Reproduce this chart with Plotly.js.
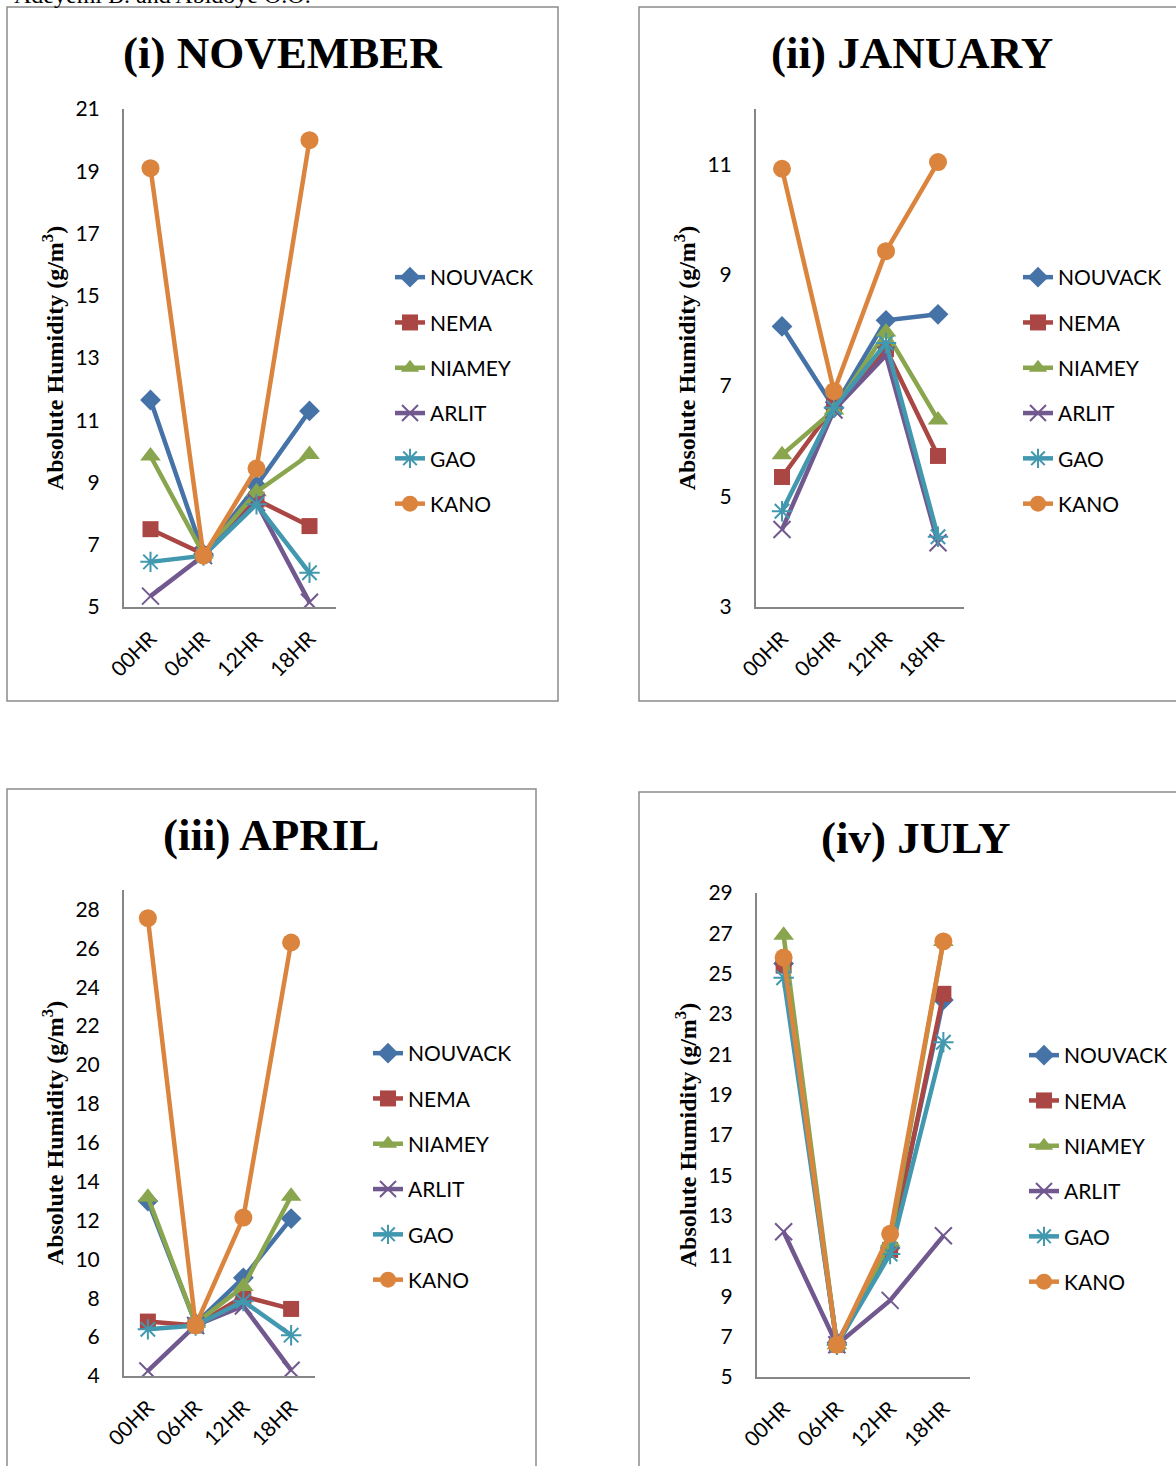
<!DOCTYPE html>
<html>
<head>
<meta charset="utf-8">
<script src="https://cdn.plot.ly/plotly-3.0.1.min.js"></script>
<style>
html,body{margin:0;padding:0;background:#ffffff;}
#chart{width:1176px;height:1466px;}
</style>
</head>
<body>
<div id="chart"></div>
<script>
// ---------- DATA ----------
const hours = ['00HR', '06HR', '12HR', '18HR'];
const stations = ['NOUVACK', 'NEMA', 'NIAMEY', 'ARLIT', 'GAO', 'KANO'];
const panelTitles = ['(i) NOVEMBER', '(ii) JANUARY', '(iii) APRIL', '(iv) JULY'];
const yTitle = 'Absolute Humidity (g/m<sup>3</sup>)';

// November
const novNOUVACK = [11.65, 6.7, 8.9, 11.3];
const novNEMA    = [7.5, 6.7, 8.45, 7.6];
const novNIAMEY  = [9.85, 6.7, 8.7, 9.9];
const novARLIT   = [5.35, 6.65, 8.35, 5.15];
const novGAO     = [6.45, 6.65, 8.3, 6.1];
const novKANO    = [19.1, 6.65, 9.45, 20.0];

// January
const janNOUVACK = [8.07, 6.6, 8.18, 8.29];
const janNEMA    = [5.35, 6.63, 7.66, 5.73];
const janNIAMEY  = [5.75, 6.56, 7.97, 6.38];
const janARLIT   = [4.4, 6.56, 7.55, 4.16];
const janGAO     = [4.73, 6.6, 7.77, 4.27];
const janKANO    = [10.92, 6.9, 9.43, 11.04];

// April
const aprNOUVACK = [13.0, 6.7, 9.05, 12.1];
const aprNEMA    = [6.8, 6.6, 8.1, 7.45];
const aprNIAMEY  = [13.2, 6.7, 8.6, 13.25];
const aprARLIT   = [4.26, 6.6, 7.6, 4.3];
const aprGAO     = [6.4, 6.6, 7.85, 6.1];
const aprKANO    = [27.55, 6.6, 12.15, 26.3];

// July
const julNOUVACK = [25.5, 6.7, 11.4, 23.7];
const julNEMA    = [25.4, 6.6, 11.3, 24.0];
const julNIAMEY  = [26.9, 6.6, 11.7, 26.6];
const julARLIT   = [12.2, 6.6, 8.8, 12.0];
const julGAO     = [24.8, 6.6, 11.1, 21.6];
const julKANO    = [25.8, 6.6, 12.1, 26.6];

// y-axis ranges and ticks
const yRanges = [[5, 21], [3, 12], [4, 29], [5, 29]];
const yTick0  = [5, 3, 4, 5];
const yDtick  = [2, 2, 2, 2];

// ---------- STYLE ----------
const colors  = ['#4572A7', '#AA4643', '#89A54E', '#71588F', '#4198AF', '#DB843D'];
const symbols = ['diamond', 'square', 'triangle-up', 'x-thin-open', 'asterisk-open', 'circle'];
const msizes  = [16, 16, 18, 17, 17, 18];

const months = [
  [novNOUVACK, novNEMA, novNIAMEY, novARLIT, novGAO, novKANO],
  [janNOUVACK, janNEMA, janNIAMEY, janARLIT, janGAO, janKANO],
  [aprNOUVACK, aprNEMA, aprNIAMEY, aprARLIT, aprGAO, aprKANO],
  [julNOUVACK, julNEMA, julNIAMEY, julARLIT, julGAO, julKANO]
];

const W = 1176, H = 1466;
const px = v => v / W;
const py = v => 1 - v / H;

// plot-area boxes in pixels [left, right, top, bottom]
const boxes = [
  [124, 336, 109, 607],
  [756, 964, 109, 607],
  [124, 315, 890, 1376],
  [757, 970, 893, 1377]
];
// legend anchor (left, top) in pixels
const legendPos = [[390, 257], [1018, 257], [368, 1033], [1024, 1035]];
// panel frames [x0, y0, x1, y1]
const frames = [
  [7, 7, 558, 701],
  [639, 7, 1185, 701],
  [7, 789, 536, 1480],
  [639, 792, 1185, 1480]
];
// title centres
const titlePos = [[282, 53], [912, 53], [271, 835], [916, 838]];

const tickFont = {family: 'Lato, "Open Sans", sans-serif', size: 21, color: '#000000'};
const traces = [];
const layout = {
  width: W, height: H,
  margin: {l: 0, r: 0, t: 0, b: 0},
  paper_bgcolor: '#ffffff',
  plot_bgcolor: 'rgba(0,0,0,0)',
  showlegend: true,
  shapes: [],
  annotations: [],
  font: tickFont
};

months.forEach((series, p) => {
  const sfx = p === 0 ? '' : String(p + 1);
  const legName = 'legend' + sfx;
  series.forEach((vals, s) => {
    const open = symbols[s].indexOf('open') >= 0;
    traces.push({
      type: 'scatter',
      mode: 'lines+markers',
      x: hours,
      y: vals,
      name: stations[s],
      xaxis: 'x' + sfx,
      yaxis: 'y' + sfx,
      legend: legName,
      legendgroup: 'p' + p + '_' + stations[s],
      line: {color: colors[s], width: 4.5},
      marker: {
        symbol: symbols[s],
        size: msizes[s],
        color: colors[s],
        line: {color: colors[s], width: open ? 2 : 0}
      },
      hoverinfo: 'x+y+name'
    });
  });

  const b = boxes[p];
  layout['xaxis' + sfx] = {
    domain: [px(b[0]), px(b[1])],
    anchor: 'y' + sfx,
    type: 'category',
    range: [-0.5, 3.5],
    showgrid: false,
    zeroline: false,
    showline: true,
    linecolor: '#868686',
    linewidth: 2,
    ticks: '',
    tickangle: -45,
    ticklabelstandoff: 9,
    tickfont: tickFont,
    fixedrange: true
  };
  layout['yaxis' + sfx] = {
    domain: [py(b[3]), py(b[2])],
    anchor: 'x' + sfx,
    range: yRanges[p],
    tick0: yTick0[p],
    dtick: yDtick[p],
    showgrid: false,
    zeroline: false,
    showline: true,
    linecolor: '#868686',
    linewidth: 2,
    ticks: '',
    ticklabelstandoff: 18,
    tickfont: tickFont,
    fixedrange: true,
    title: {
      text: yTitle,
      font: {family: '"Liberation Serif", "Times New Roman", serif', size: 24, color: '#000000', weight: 'bold'},
      standoff: 5
    }
  };
  layout[legName] = {
    x: px(legendPos[p][0]),
    y: py(legendPos[p][1]),
    xanchor: 'left',
    yanchor: 'top',
    traceorder: 'grouped',
    tracegroupgap: 15,
    font: tickFont,
    bgcolor: 'rgba(0,0,0,0)',
    borderwidth: 0
  };
  const f = frames[p];
  layout.shapes.push({
    type: 'rect', xref: 'paper', yref: 'paper', layer: 'below',
    x0: px(f[0]), x1: px(f[2]), y0: py(f[3]), y1: py(f[1]),
    line: {color: '#8c8c8c', width: 1.5}, fillcolor: 'rgba(0,0,0,0)'
  });
  layout.annotations.push({
    xref: 'paper', yref: 'paper',
    x: px(titlePos[p][0]), y: py(titlePos[p][1]),
    xanchor: 'center', yanchor: 'middle',
    text: '<b>' + panelTitles[p] + '</b>',
    showarrow: false,
    font: {family: '"Liberation Serif", "Times New Roman", serif', size: 45, color: '#000000'}
  });
});

// running header, cut off at the top of the page as in the source
layout.annotations.push({
  xref: 'paper', yref: 'paper',
  x: px(12), y: py(10),
  xanchor: 'left', yanchor: 'bottom',
  text: 'Adeyemi B. and Abidoye O.O.',
  showarrow: false,
  font: {family: '"Liberation Serif", "Times New Roman", serif', size: 24, color: '#000000'}
});

Plotly.newPlot('chart', traces, layout, {displayModeBar: false, staticPlot: true});
</script>
</body>
</html>
